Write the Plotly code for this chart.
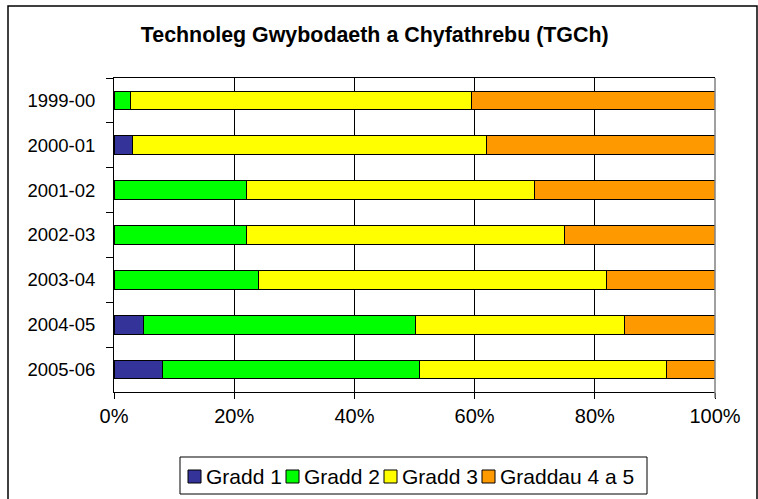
import plotly.graph_objects as go

years = ["1999-00", "2000-01", "2001-02", "2002-03", "2003-04", "2004-05", "2005-06"]
series_names = ["Gradd 1", "Gradd 2", "Gradd 3", "Graddau 4 a 5"]
gradd1 = [0.0, 3.1, 0.0, 0.0, 0.0, 4.9, 8.0]
gradd2 = [2.8, 0.0, 22.0, 22.0, 24.0, 45.3, 42.9]
gradd3 = [56.7, 58.9, 48.0, 52.9, 57.9, 34.8, 41.1]
gradd45 = [40.5, 38.0, 30.0, 25.1, 18.1, 15.0, 8.0]
x_ticks = [0, 20, 40, 60, 80, 100]
x_tick_labels = ["0%", "20%", "40%", "60%", "80%", "100%"]
title_text = "Technoleg Gwybodaeth a Chyfathrebu (TGCh)"

colors = ["#333399", "#00FF00", "#FFFF00", "#FF9900"]
values = [gradd1, gradd2, gradd3, gradd45]

W, H = 758, 499
L, R, T, B = 114, 715, 78, 392
FONT = "Arial, Liberation Sans, sans-serif"


def px(x):
    return (x - L) / (R - L)


def py(y):
    return (B - y) / (B - T)


fig = go.Figure()
for name, vals, col in zip(series_names, values, colors):
    fig.add_trace(go.Bar(
        y=years, x=vals, name=name, orientation="h",
        marker=dict(color=col, line=dict(color="black", width=1)),
        width=0.42, showlegend=False,
    ))

shapes = [
    dict(type="rect", xref="paper", yref="paper",
         x0=px(8), x1=px(757), y0=py(510), y1=py(6),
         line=dict(color="black", width=1.5), layer="below"),
    dict(type="line", xref="paper", yref="paper",
         x0=1, x1=1, y0=py(398), y1=1,
         line=dict(color="#808080", width=1.5)),
    dict(type="rect", xref="paper", yref="paper",
         x0=px(180), x1=px(647), y0=py(494), y1=py(457),
         line=dict(color="black", width=1)),
]
annotations = []
sq_x = [188, 286, 384, 482]
for sx, name, col in zip(sq_x, series_names, colors):
    shapes.append(dict(type="rect", xref="paper", yref="paper",
                       x0=px(sx), x1=px(sx + 13), y0=py(483), y1=py(470),
                       fillcolor=col, line=dict(color="black", width=1)))
    annotations.append(dict(xref="paper", yref="paper", x=px(sx + 16), y=py(476.5),
                            text=name, showarrow=False, xanchor="left", yanchor="middle",
                            font=dict(family=FONT, size=21, color="black")))

fig.update_layout(
    width=W, height=H,
    margin=dict(l=L, r=W - R, t=T, b=H - B, pad=0),
    barmode="stack",
    paper_bgcolor="white", plot_bgcolor="white",
    title=dict(text="<b>" + title_text + "</b>", x=374.7 / W, xanchor="center",
               xref="container", y=1 - 34.5 / H, yanchor="middle", yref="container",
               font=dict(family=FONT, size=21.4, color="black")),
    xaxis=dict(type="linear", range=[0, 100], tickmode="array",
               tickvals=x_ticks, ticktext=x_tick_labels,
               showgrid=True, gridcolor="black", gridwidth=1,
               showline=True, linecolor="black", linewidth=1, mirror=True,
               ticks="outside", ticklen=6, tickcolor="black",
               tickfont=dict(family=FONT, size=20, color="black"),
               zeroline=False),
    yaxis=dict(type="category", categoryorder="array", categoryarray=years,
               autorange="reversed",
               showline=True, linecolor="black", linewidth=1,
               ticks="outside", ticklen=7, tickcolor="black", tickson="boundaries",
               tickfont=dict(family=FONT, size=18.5, color="black"),
               showgrid=False, ticklabelstandoff=14),
    shapes=shapes, annotations=annotations,
    font=dict(family=FONT, color="black"),
)

fig.write_html("out.html", config={"displayModeBar": False},
               post_script="document.body.style.margin='0';")
